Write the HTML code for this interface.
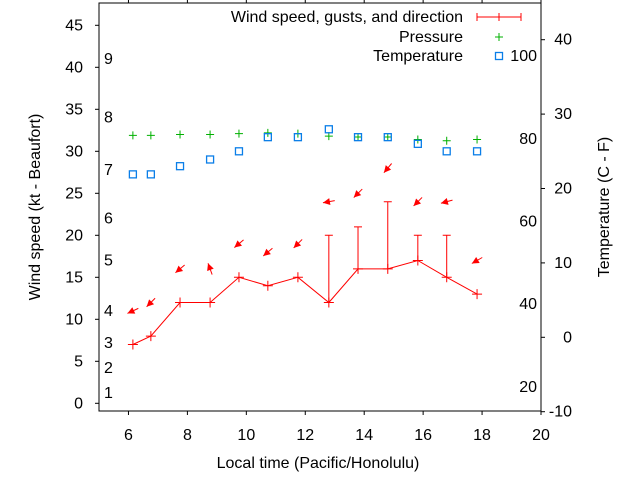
<!DOCTYPE html>
<html><head><meta charset="utf-8"><style>
body{margin:0;background:#fff}
svg text{font-family:"Liberation Sans",sans-serif;font-size:16px;fill:#000}
</style></head><body>
<svg id="c" width="640" height="480" xmlns="http://www.w3.org/2000/svg"></svg>
<script>
const times=[6.15,6.76,7.75,8.77,9.75,10.73,11.75,12.8,13.79,14.8,15.82,16.8,17.83];
const speed=[7,8,12,12,15,14,15,12,16,16,17,15,13];
const gustIdx=[7,8,9,10,11];
const gusts=[20,21,24,20,20];
const pressure=[31.9,31.9,32.0,32.0,32.1,32.2,32.1,31.8,31.7,31.7,31.4,31.25,31.4];
const tempC=[21.9,21.9,23.0,23.9,25.0,26.9,26.9,27.96,26.9,26.9,26.0,25.0,25.0];
const arrowY=[11,12,16,16,19,18,19,24,25,28,24,24,17];
const windDir=[65,45,50,160,50,50,45,80,45,40,45,75,60];
const xTicks=[6,8,10,12,14,16,18,20];
const yTicks=[0,5,10,15,20,25,30,35,40,45];
const y2Ticks=[-10,0,10,20,30,40];
const beaufort=[[1,1.2],[2,4.2],[3,7.2],[4,11],[5,17],[6,22],[7,27.8],[8,34],[9,41]];
const fTicks=[20,40,60,80,100];

const svg=document.getElementById('c');const NS='http://www.w3.org/2000/svg';
const L=99,R=541,T=3,B=411;
const X=v=>L+(v-5)*(R-L)/15;
const Y=v=>403.3-8.4*v;
const Y2=v=>337.3-7.44*v;
const YF=f=>Y2((f-32)*5/9);
function el(t,a,p){const e=document.createElementNS(NS,t);for(const k in a)e.setAttribute(k,a[k]);(p||svg).appendChild(e);return e;}
function txt(x,y,s,anchor,name,rot){const e=el('text',{x:x,y:y,'text-anchor':anchor||'middle'});if(rot)e.setAttribute('transform',rot);e.textContent=s;return e;}

const frame=el('rect',{x:L,y:T,width:R-L,height:B-T,fill:'none',stroke:'#000','stroke-width':1});


xTicks.forEach(v=>{const x=X(v);
 el('line',{x1:x,y1:B,x2:x,y2:B+4,stroke:'#000'});
 el('line',{x1:x,y1:T,x2:x,y2:T-4,stroke:'#000'});
 txt(x,440,String(v),'middle','x-tick-label');});
yTicks.forEach(v=>{const y=Y(v);
 el('line',{x1:L,y1:y,x2:L-4,y2:y,stroke:'#000'});
 txt(83,y+5,String(v),'end','y-tick-label');});
y2Ticks.forEach(v=>{const y=Y2(v);
 el('line',{x1:R,y1:y,x2:R+4,y2:y,stroke:'#000'});
 txt(572,y+5,String(v),'end','y2-tick-label');});
beaufort.forEach(b=>txt(104,Y(b[1])+5,String(b[0]),'start','beaufort-label'));
fTicks.forEach(f=>txt(537,YF(f)+5,String(f),'end','fahrenheit-label'));

txt(318,468,'Local time (Pacific/Honolulu)','middle','x-axis-title');
txt(0,0,'Wind speed (kt - Beaufort)','middle','y-axis-title','translate(40,207) rotate(-90)');
txt(0,0,'Temperature (C - F)','middle','y2-axis-title','translate(609,207) rotate(-90)');

const pts=times.map((t,i)=>X(t)+','+Y(speed[i])).join(' ');
const pl=el('polyline',{points:pts,fill:'none',stroke:'#f00','stroke-width':1});


times.forEach((t,i)=>{const x=X(t),y=Y(speed[i]);
 const p=el('path',{d:`M${x-5},${y}H${x+5}M${x},${y-5}V${y+5}`,stroke:'#f00'});
 
 });
gustIdx.forEach((i,k)=>{const x=X(times[i]),y0=Y(speed[i]),y1=Y(gusts[k]);
 const p=el('path',{d:`M${x},${y0}V${y1}M${x-4},${y1}H${x+4}`,stroke:'#f00'});
 
 });
times.forEach((t,i)=>{const cx=X(t),cy=Y(arrowY[i]);const a=windDir[i]*Math.PI/180;
 const dx=-Math.sin(a),dy=Math.cos(a);
 const hx=cx+dx*6,hy=cy+dy*6,tx=cx-dx*6,ty=cy-dy*6;
 const px=-dy,py=dx;
 const g=el('g',{});
 
 
 el('line',{x1:tx,y1:ty,x2:hx,y2:hy,stroke:'#f00'},g);
 const bx=hx-dx*7,by=hy-dy*7;
 el('polygon',{points:`${hx},${hy} ${bx+px*3.5},${by+py*3.5} ${bx-px*3.5},${by-py*3.5}`,fill:'#f00'},g);});
times.forEach((t,i)=>{const x=X(t),y=Y(pressure[i]);
 const p=el('path',{d:`M${x-4},${y}H${x+4}M${x},${y-4}V${y+4}`,stroke:'#00b000'});
 
 });
times.forEach((t,i)=>{const x=X(t),y=Y2(tempC[i]);
 const r=el('rect',{x:x-3.5,y:y-3.5,width:7,height:7,fill:'none',stroke:'#0a7ee8','stroke-width':1.3});
 
 });
txt(463,22,'Wind speed, gusts, and direction','end','legend-wind-label');
const lw=el('path',{d:'M477,17H521M477,13V21M521,13V21M499,13V21',stroke:'#f00'});


txt(463,42,'Pressure','end','legend-pressure-label');
const lp=el('path',{d:'M495,37H503M499,33V41',stroke:'#00b000'});


txt(463,61,'Temperature','end','legend-temperature-label');
const lt=el('rect',{x:495.5,y:52.5,width:7,height:7,fill:'none',stroke:'#0a7ee8','stroke-width':1.3});


</script>
</body></html>
